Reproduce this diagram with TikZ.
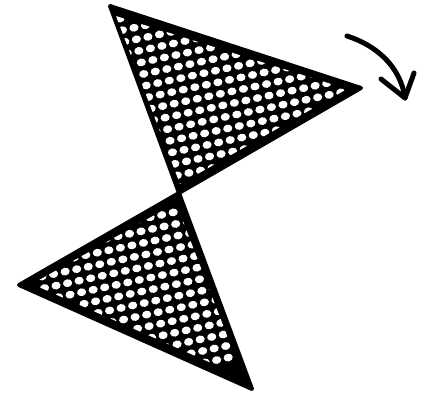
\documentclass[tikz,border=0pt]{standalone}
\usetikzlibrary{arrows.meta}
\begin{document}
\begin{tikzpicture}[x=1pt,y=-1pt,
  tri/.style={fill=black,draw=black,line width=4pt,line join=round},
  hole/.style={fill=white},
  arr/.style={line width=5pt,line cap=round,line join=round}]
\useasboundingbox (0,0) rectangle (425,396);
\coordinate (a1) at (110,6);
\coordinate (a2) at (361,88);
\coordinate (c) at (179,193);
\coordinate (b1) at (19,285);
\coordinate (b2) at (252,389);
\fill[tri] (a1) -- (a2) -- (c) -- cycle;
\fill[tri] (c) -- (b1) -- (b2) -- cycle;
\begin{scope}
\clip (116,16) -- (347,89) -- (180,184) -- cycle
      (176,203) -- (32,284) -- (243,377) -- cycle;
\begin{scope}[rotate around={12:(200,200)}]
\foreach \i in {-6,...,30}{
  \foreach \j in {-6,...,30}{
    \fill[hole] (\i*11.8+6,\j*11.8+6) ellipse (4.6 and 3.9);
  }
}
\end{scope}
\end{scope}
\coordinate (s) at (347,36);
\coordinate (t) at (405,98);
\draw[arr] (s) .. controls (375,45) and (400,65) .. (t);
\draw[arr] (381,79) -- (t) -- (414,73);
\end{tikzpicture}
\end{document}
